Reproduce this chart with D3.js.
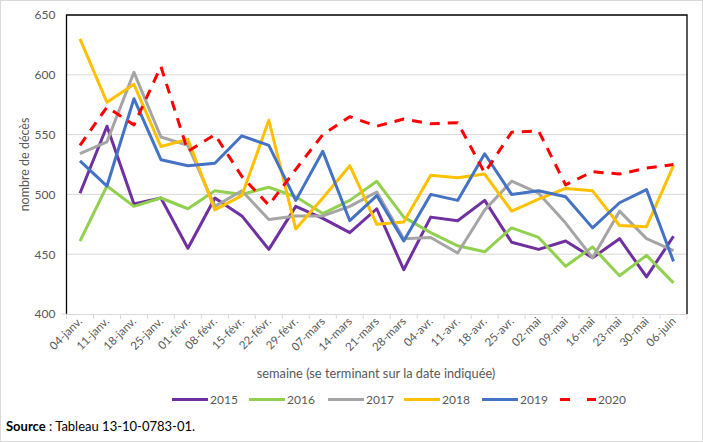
<!DOCTYPE html>
<html><head><meta charset="utf-8">
<script src="https://cdn.jsdelivr.net/npm/d3@7"></script>
<style>
html,body{margin:0;padding:0;background:#fff;}
svg{display:block;font-family:Lato,"Open Sans",sans-serif;}
</style></head>
<body><svg id="c" width="703" height="442"></svg>
<script>
const weeks = ["04-janv.","11-janv.","18-janv.","25-janv.","01-févr.","08-févr.","15-févr.","22-févr.","29-févr.","07-mars","14-mars","21-mars","28-mars","04-avr.","11-avr.","18-avr.","25-avr.","02-mai","09-mai","16-mai","23-mai","30-mai","06-juin"];
const years = ["2015","2016","2017","2018","2019","2020"];
const v2015 = [501,557,492,497,455,497,482,454,490,480,468,488,437,481,478,495,460,454,461,447,463,431,465];
const v2016 = [461,507,490,497,488,503,500,506,498,484,495,511,481,468,457,452,472,464,440,456,432,449,426];
const v2017 = [534,544,602,548,541,490,503,479,482,482,490,502,463,464,451,487,511,501,476,447,486,463,453];
const v2018 = [630,577,592,540,546,487,499,562,471,497,524,475,477,516,514,517,486,496,505,503,474,473,524];
const v2019 = [528,507,580,529,524,526,549,541,495,536,478,499,461,500,495,534,500,503,498,472,493,504,444];
const v2020 = [541,573,558,607,536,550,515,491,521,550,565,557,563,559,560,518,552,553,508,519,517,522,525];
const yTicks = [400,450,500,550,600,650];
const colors = ["#7030a0","#92d050","#a5a5a5","#ffc000","#4472c4","#ff0000"];
const seriesValues = [v2015,v2016,v2017,v2018,v2019,v2020];

const svg = d3.select("#c");
svg.append("rect").attr("x",0.5).attr("y",0.5).attr("width",702).attr("height",441)
  .attr("fill","#fff").attr("stroke","#d9d9d9");

const L=66.5, R=687, T=15, B=314;
const x = d3.scaleBand().domain(weeks).range([L,R]);
const y = d3.scaleLinear().domain([400,650]).range([B,T]);

// gridlines
svg.append("g").selectAll("line").data(yTicks.filter(d=>d>400&&d<650)).join("line")
  .attr("x1",L).attr("x2",R).attr("y1",d=>y(d)).attr("y2",d=>y(d))
  .attr("stroke","#d9d9d9").attr("stroke-width",1);

// x axis (gray) with ticks between categories
const xAxis = d3.axisBottom(x).tickSize(5).tickSizeOuter(0).tickFormat("");
const gx = svg.append("g").attr("transform",`translate(0,${B})`).call(xAxis);
gx.select(".domain").attr("stroke","#d9d9d9");
gx.selectAll(".tick line").remove();
gx.selectAll(".ticksep").data(d3.range(weeks.length+1)).join("line")
  .attr("x1",i=>L+i*x.step()).attr("x2",i=>L+i*x.step())
  .attr("y1",0).attr("y2",5).attr("stroke","#d9d9d9");
// tick labels rotated
svg.append("g").selectAll("text").data(weeks).join("text")
  .attr("transform",d=>`translate(${x(d)+x.bandwidth()/2+3},${B+8}) rotate(-45)`)
  .attr("text-anchor","end").attr("font-size",11.5).attr("fill","#595959").text(d=>d);

// frame: left, top, right black
svg.append("path").attr("d",`M${L},${B}V${T}H${R}V${B}`).attr("fill","none").attr("stroke","#000").attr("stroke-width",1.3);

// y axis labels
const yAxis = d3.axisLeft(y).tickValues(yTicks).tickSize(0).tickPadding(11);
const gy = svg.append("g").attr("transform",`translate(${L},0)`).call(yAxis);
gy.select(".domain").remove();
gy.selectAll("text").attr("font-size",12).attr("fill","#595959").attr("font-family","Lato,'Open Sans',sans-serif");
svg.append("line").attr("x1",L-5).attr("x2",L).attr("y1",B).attr("y2",B).attr("stroke","#d9d9d9");

// lines
const line = d3.line().x((d,i)=>x(weeks[i])+x.bandwidth()/2).y(d=>y(d));
seriesValues.forEach((vals,k)=>{
  svg.append("path").datum(vals).attr("d",line).attr("fill","none")
    .attr("stroke",colors[k]).attr("stroke-width",3)
    .attr("stroke-linejoin","round")
    .attr("stroke-dasharray",k===5?"10,8":null);
});

// axis titles
svg.append("text").attr("transform",`translate(29,${(T+B)/2}) rotate(-90)`)
  .attr("text-anchor","middle").attr("font-size",12.5).attr("fill","#595959").text("nombre de décès");
svg.append("text").attr("x",376).attr("y",378).attr("text-anchor","middle")
  .attr("font-size",12.8).attr("fill","#595959").text("semaine (se terminant sur la date indiquée)");

// legend
const legX = [172,249,328,404,482,560];
const lg = svg.append("g");
years.forEach((yr,k)=>{
  lg.append("line").attr("x1",legX[k]).attr("x2",legX[k]+36).attr("y1",399.5).attr("y2",399.5)
    .attr("stroke",colors[k]).attr("stroke-width",3).attr("stroke-dasharray",k===5?"10,17":null);
  lg.append("text").attr("x",legX[k]+38).attr("y",403.5).attr("font-size",12).attr("fill","#595959").text(yr);
});

// source
const src = svg.append("text").attr("x",6).attr("y",431).attr("font-size",13).attr("fill","#000");
src.append("tspan").attr("font-weight","bold").text("Source");
src.append("tspan").text(" : Tableau 13-10-0783-01.");
</script></body></html>
